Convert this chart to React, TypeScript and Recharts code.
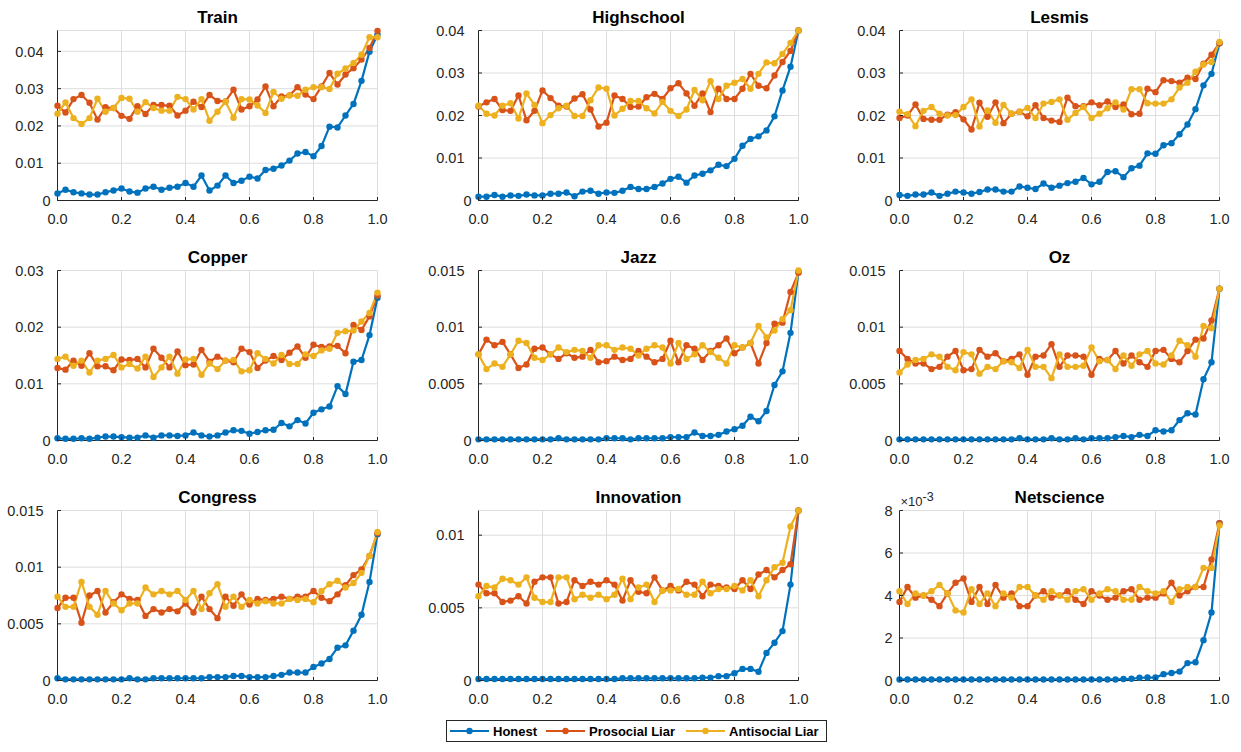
import React from 'react';
import { LineChart, Line, XAxis, YAxis, CartesianGrid } from 'recharts';

const FONT = '"Liberation Sans", Arial, Helvetica, sans-serif';
const INK = '#262626';
const GRID = '#dedede';
const TICK_FONT = 14.5;

const COLORS = {
  honest: '#0072BD',
  prosocial: '#D95319',
  antisocial: '#EDB120',
};

// liar fraction on the x axis (41 samples)
const xs = [
  0, 0.025, 0.05, 0.075, 0.1, 0.125, 0.15, 0.175, 0.2, 0.225, 0.25, 0.275, 0.3, 0.325,
  0.35, 0.375, 0.4, 0.425, 0.45, 0.475, 0.5, 0.525, 0.55, 0.575, 0.6, 0.625, 0.65, 0.675,
  0.7, 0.725, 0.75, 0.775, 0.8, 0.825, 0.85, 0.875, 0.9, 0.925, 0.95, 0.975, 1,
];
const xTicks = [0, 0.2, 0.4, 0.6, 0.8, 1];
const xTickLabels = ['0.0', '0.2', '0.4', '0.6', '0.8', '1.0'];

// Train
const trainHonest = [0.0019, 0.0029, 0.0022, 0.0019, 0.0016, 0.0016, 0.0022, 0.0027, 0.0032, 0.0024, 0.0021, 0.0032, 0.0037, 0.0029, 0.0034, 0.0037, 0.0047, 0.0037, 0.0067, 0.0027, 0.0040, 0.0067, 0.0047, 0.0053, 0.0064, 0.0059, 0.0082, 0.0085, 0.0094, 0.0107, 0.0126, 0.0130, 0.0119, 0.0146, 0.0198, 0.0196, 0.0228, 0.0259, 0.0321, 0.0399, 0.0445];
const trainProsocial = [0.0254, 0.0236, 0.0272, 0.0283, 0.0262, 0.0217, 0.0250, 0.0248, 0.0227, 0.0219, 0.0253, 0.0232, 0.0256, 0.0256, 0.0254, 0.0228, 0.0241, 0.0265, 0.0251, 0.0283, 0.0267, 0.0266, 0.0297, 0.0244, 0.0253, 0.0271, 0.0306, 0.0253, 0.0279, 0.0282, 0.0304, 0.0284, 0.0272, 0.0306, 0.0342, 0.0311, 0.0338, 0.0355, 0.0378, 0.0409, 0.0455];
const trainAntisocial = [0.0233, 0.0263, 0.0221, 0.0205, 0.0221, 0.0273, 0.0238, 0.0248, 0.0275, 0.0273, 0.0238, 0.0264, 0.0248, 0.0241, 0.0241, 0.0278, 0.0272, 0.0244, 0.0272, 0.0214, 0.0238, 0.0265, 0.0222, 0.0272, 0.0271, 0.0255, 0.0235, 0.0291, 0.0273, 0.0282, 0.0281, 0.0297, 0.0304, 0.0304, 0.0299, 0.0340, 0.0354, 0.0369, 0.0391, 0.0438, 0.0438];

// Highschool
const highschoolHonest = [0.0009, 0.0009, 0.0013, 0.0009, 0.0012, 0.0011, 0.0014, 0.0012, 0.0012, 0.0016, 0.0016, 0.0019, 0.0010, 0.0021, 0.0023, 0.0016, 0.0019, 0.0018, 0.0023, 0.0032, 0.0027, 0.0027, 0.0032, 0.0040, 0.0051, 0.0056, 0.0042, 0.0059, 0.0063, 0.0071, 0.0084, 0.0081, 0.0098, 0.0129, 0.0145, 0.0151, 0.0165, 0.0198, 0.0259, 0.0315, 0.0400];
const highschoolProsocial = [0.0221, 0.0231, 0.0239, 0.0213, 0.0211, 0.0247, 0.0189, 0.0211, 0.0259, 0.0241, 0.0223, 0.0221, 0.0240, 0.0250, 0.0214, 0.0174, 0.0183, 0.0247, 0.0239, 0.0220, 0.0221, 0.0243, 0.0251, 0.0239, 0.0264, 0.0276, 0.0252, 0.0223, 0.0252, 0.0208, 0.0263, 0.0239, 0.0239, 0.0263, 0.0298, 0.0270, 0.0264, 0.0294, 0.0326, 0.0352, 0.0400];
const highschoolAntisocial = [0.0223, 0.0204, 0.0200, 0.0223, 0.0229, 0.0193, 0.0252, 0.0225, 0.0182, 0.0201, 0.0217, 0.0223, 0.0199, 0.0199, 0.0236, 0.0266, 0.0263, 0.0200, 0.0216, 0.0234, 0.0234, 0.0217, 0.0205, 0.0232, 0.0211, 0.0199, 0.0214, 0.0260, 0.0236, 0.0281, 0.0239, 0.0270, 0.0277, 0.0286, 0.0263, 0.0298, 0.0325, 0.0323, 0.0345, 0.0371, 0.0400];

// Lesmis
const lesmisHonest = [0.0013, 0.0011, 0.0014, 0.0014, 0.0019, 0.0011, 0.0016, 0.0021, 0.0019, 0.0016, 0.0020, 0.0026, 0.0026, 0.0021, 0.0021, 0.0033, 0.0030, 0.0027, 0.0040, 0.0030, 0.0035, 0.0041, 0.0044, 0.0053, 0.0038, 0.0044, 0.0067, 0.0069, 0.0055, 0.0076, 0.0082, 0.0111, 0.0110, 0.0130, 0.0135, 0.0156, 0.0179, 0.0215, 0.0271, 0.0298, 0.0370];
const lesmisProsocial = [0.0194, 0.0200, 0.0226, 0.0192, 0.0190, 0.0190, 0.0202, 0.0208, 0.0191, 0.0167, 0.0230, 0.0197, 0.0231, 0.0182, 0.0204, 0.0209, 0.0198, 0.0224, 0.0194, 0.0188, 0.0185, 0.0242, 0.0222, 0.0222, 0.0231, 0.0224, 0.0233, 0.0220, 0.0226, 0.0203, 0.0204, 0.0263, 0.0255, 0.0283, 0.0281, 0.0277, 0.0289, 0.0286, 0.0322, 0.0343, 0.0370];
const lesmisAntisocial = [0.0209, 0.0203, 0.0175, 0.0211, 0.0220, 0.0204, 0.0200, 0.0201, 0.0220, 0.0238, 0.0174, 0.0212, 0.0183, 0.0225, 0.0204, 0.0209, 0.0218, 0.0194, 0.0228, 0.0232, 0.0238, 0.0190, 0.0206, 0.0220, 0.0194, 0.0204, 0.0217, 0.0231, 0.0214, 0.0262, 0.0262, 0.0229, 0.0228, 0.0228, 0.0238, 0.0266, 0.0277, 0.0303, 0.0320, 0.0326, 0.0373];

// Copper
const copperHonest = [0.0004, 0.0003, 0.0003, 0.0004, 0.0003, 0.0005, 0.0007, 0.0007, 0.0006, 0.0005, 0.0005, 0.0009, 0.0005, 0.0009, 0.0009, 0.0008, 0.0009, 0.0014, 0.0009, 0.0007, 0.0009, 0.0014, 0.0018, 0.0017, 0.0012, 0.0015, 0.0018, 0.0019, 0.0031, 0.0025, 0.0036, 0.0030, 0.0049, 0.0055, 0.0060, 0.0096, 0.0082, 0.0139, 0.0142, 0.0186, 0.0252];
const copperProsocial = [0.0128, 0.0125, 0.0141, 0.0132, 0.0154, 0.0131, 0.0131, 0.0124, 0.0143, 0.0142, 0.0144, 0.0129, 0.0162, 0.0146, 0.0129, 0.0157, 0.0133, 0.0134, 0.0160, 0.0139, 0.0148, 0.0141, 0.0138, 0.0162, 0.0156, 0.0128, 0.0141, 0.0149, 0.0142, 0.0155, 0.0166, 0.0146, 0.0169, 0.0165, 0.0166, 0.0167, 0.0154, 0.0204, 0.0195, 0.0219, 0.0256];
const copperAntisocial = [0.0144, 0.0148, 0.0132, 0.0141, 0.0120, 0.0141, 0.0144, 0.0151, 0.0129, 0.0135, 0.0127, 0.0148, 0.0112, 0.0129, 0.0148, 0.0118, 0.0143, 0.0144, 0.0116, 0.0136, 0.0126, 0.0141, 0.0142, 0.0122, 0.0124, 0.0154, 0.0144, 0.0136, 0.0151, 0.0135, 0.0135, 0.0152, 0.0149, 0.0159, 0.0162, 0.0190, 0.0193, 0.0194, 0.0210, 0.0225, 0.0261];

// Jazz
const jazzHonest = [0.0001, 0.0001, 0.0001, 0.0001, 0.0001, 0.0001, 0.0001, 0.0001, 0.0001, 0.0001, 0.0002, 0.0001, 0.0001, 0.0001, 0.0001, 0.0001, 0.0002, 0.0002, 0.0002, 0.0001, 0.0002, 0.0002, 0.0002, 0.0002, 0.0003, 0.0003, 0.0003, 0.0007, 0.0004, 0.0004, 0.0005, 0.0008, 0.0010, 0.0013, 0.0021, 0.0017, 0.0026, 0.0049, 0.0061, 0.0095, 0.0149];
const jazzProsocial = [0.0076, 0.0089, 0.0084, 0.0087, 0.0076, 0.0064, 0.0067, 0.0081, 0.0082, 0.0076, 0.0072, 0.0077, 0.0073, 0.0074, 0.0080, 0.0069, 0.0070, 0.0074, 0.0071, 0.0072, 0.0079, 0.0074, 0.0069, 0.0072, 0.0088, 0.0069, 0.0084, 0.0081, 0.0071, 0.0079, 0.0084, 0.0090, 0.0077, 0.0082, 0.0086, 0.0068, 0.0086, 0.0103, 0.0104, 0.0131, 0.0148];
const jazzAntisocial = [0.0076, 0.0063, 0.0068, 0.0065, 0.0076, 0.0088, 0.0086, 0.0073, 0.0071, 0.0076, 0.0082, 0.0078, 0.0080, 0.0079, 0.0073, 0.0084, 0.0084, 0.0080, 0.0082, 0.0081, 0.0075, 0.0081, 0.0084, 0.0082, 0.0068, 0.0086, 0.0072, 0.0076, 0.0084, 0.0078, 0.0073, 0.0068, 0.0084, 0.0082, 0.0086, 0.0101, 0.0091, 0.0097, 0.0107, 0.0115, 0.0150];

// Oz
const ozHonest = [0.0001, 0.0001, 0.0001, 0.0001, 0.0001, 0.0001, 0.0001, 0.0001, 0.0001, 0.0001, 0.0001, 0.0001, 0.0001, 0.0001, 0.0001, 0.0002, 0.0001, 0.0001, 0.0001, 0.0002, 0.0001, 0.0001, 0.0002, 0.0001, 0.0002, 0.0002, 0.0002, 0.0003, 0.0004, 0.0003, 0.0005, 0.0004, 0.0009, 0.0008, 0.0009, 0.0018, 0.0024, 0.0023, 0.0054, 0.0069, 0.0134];
const ozProsocial = [0.0079, 0.0072, 0.0068, 0.0068, 0.0063, 0.0065, 0.0074, 0.0079, 0.0062, 0.0063, 0.0080, 0.0074, 0.0077, 0.0070, 0.0072, 0.0076, 0.0058, 0.0074, 0.0075, 0.0085, 0.0065, 0.0075, 0.0075, 0.0074, 0.0058, 0.0072, 0.0071, 0.0079, 0.0068, 0.0075, 0.0069, 0.0065, 0.0079, 0.0080, 0.0072, 0.0069, 0.0079, 0.0089, 0.0090, 0.0106, 0.0134];
const ozAntisocial = [0.0060, 0.0067, 0.0071, 0.0072, 0.0076, 0.0074, 0.0065, 0.0062, 0.0078, 0.0076, 0.0059, 0.0065, 0.0063, 0.0070, 0.0069, 0.0064, 0.0080, 0.0065, 0.0065, 0.0055, 0.0076, 0.0065, 0.0065, 0.0066, 0.0082, 0.0070, 0.0071, 0.0063, 0.0075, 0.0066, 0.0076, 0.0079, 0.0068, 0.0067, 0.0075, 0.0088, 0.0084, 0.0074, 0.0101, 0.0099, 0.0134];

// Congress
const congressHonest = [0.0002, 0.0001, 0.0001, 0.0001, 0.0001, 0.0001, 0.0001, 0.0001, 0.0001, 0.0002, 0.0001, 0.0001, 0.0002, 0.0002, 0.0002, 0.0002, 0.0002, 0.0002, 0.0002, 0.0003, 0.0003, 0.0003, 0.0004, 0.0004, 0.0003, 0.0003, 0.0003, 0.0004, 0.0005, 0.0007, 0.0007, 0.0007, 0.0012, 0.0015, 0.0019, 0.0029, 0.0031, 0.0044, 0.0058, 0.0087, 0.0129];
const congressProsocial = [0.0064, 0.0073, 0.0073, 0.0051, 0.0075, 0.0079, 0.0060, 0.0069, 0.0076, 0.0072, 0.0071, 0.0057, 0.0063, 0.0060, 0.0063, 0.0061, 0.0068, 0.0060, 0.0074, 0.0063, 0.0055, 0.0074, 0.0066, 0.0076, 0.0067, 0.0072, 0.0071, 0.0072, 0.0074, 0.0072, 0.0074, 0.0074, 0.0079, 0.0073, 0.0070, 0.0076, 0.0084, 0.0093, 0.0098, 0.0110, 0.0130];
const congressAntisocial = [0.0074, 0.0065, 0.0065, 0.0087, 0.0065, 0.0058, 0.0079, 0.0068, 0.0062, 0.0068, 0.0068, 0.0082, 0.0076, 0.0079, 0.0076, 0.0079, 0.0071, 0.0079, 0.0063, 0.0077, 0.0085, 0.0065, 0.0074, 0.0065, 0.0071, 0.0068, 0.0070, 0.0068, 0.0068, 0.0072, 0.0071, 0.0072, 0.0069, 0.0079, 0.0085, 0.0088, 0.0082, 0.0086, 0.0095, 0.0110, 0.0131];

// Innovation
const innovationHonest = [0.0001, 0.0001, 0.0001, 0.0001, 0.0001, 0.0001, 0.0001, 0.0001, 0.0001, 0.0001, 0.0001, 0.0001, 0.0001, 0.0001, 0.0001, 0.0001, 0.0001, 0.0001, 0.00015, 0.00015, 0.00015, 0.00015, 0.00015, 0.00015, 0.00015, 0.00015, 0.00015, 0.00015, 0.0002, 0.0002, 0.0003, 0.0003, 0.0005, 0.0008, 0.0008, 0.0006, 0.0019, 0.0026, 0.0034, 0.0066, 0.0117];
const innovationProsocial = [0.0066, 0.0060, 0.0060, 0.0054, 0.0055, 0.0058, 0.0053, 0.0068, 0.0071, 0.0071, 0.0053, 0.0054, 0.0069, 0.0065, 0.0068, 0.0066, 0.0069, 0.0066, 0.0055, 0.0069, 0.0061, 0.0060, 0.0071, 0.0062, 0.0065, 0.0062, 0.0068, 0.0066, 0.0058, 0.0066, 0.0065, 0.0064, 0.0063, 0.0069, 0.0063, 0.0073, 0.0076, 0.0071, 0.0076, 0.0080, 0.0117];
const innovationAntisocial = [0.0058, 0.0065, 0.0064, 0.0070, 0.0069, 0.0066, 0.0071, 0.0057, 0.0054, 0.0054, 0.0071, 0.0071, 0.0056, 0.0059, 0.0057, 0.0059, 0.0056, 0.0059, 0.0070, 0.0056, 0.0064, 0.0066, 0.0054, 0.0062, 0.0062, 0.0063, 0.0059, 0.0059, 0.0068, 0.0060, 0.0063, 0.0063, 0.0065, 0.0062, 0.0069, 0.0058, 0.0069, 0.0078, 0.0081, 0.0106, 0.0117];

// Netscience
const netscienceHonest = [0.00005, 0.00005, 0.00005, 0.00005, 0.00005, 0.00005, 0.00005, 0.00005, 0.00005, 0.00005, 0.00005, 0.00005, 0.00005, 0.00005, 0.00005, 0.00005, 0.00005, 0.00005, 0.00005, 0.00005, 0.00005, 0.00005, 0.00005, 0.00005, 0.00005, 0.00005, 0.00005, 0.00005, 0.00007, 0.00008, 0.00013, 0.00014, 0.00014, 0.0003, 0.00035, 0.00042, 0.00082, 0.00086, 0.0019, 0.0032, 0.0074];
const netscienceProsocial = [0.0037, 0.0044, 0.0039, 0.0040, 0.0038, 0.0035, 0.0041, 0.0046, 0.0048, 0.0037, 0.0044, 0.0036, 0.0045, 0.0039, 0.0041, 0.0035, 0.0035, 0.0040, 0.0042, 0.0039, 0.0040, 0.0042, 0.0038, 0.0036, 0.0042, 0.0040, 0.0038, 0.0039, 0.0042, 0.0043, 0.0038, 0.0039, 0.0039, 0.0041, 0.0046, 0.0040, 0.0042, 0.0044, 0.0044, 0.0057, 0.0074];
const netscienceAntisocial = [0.0042, 0.0036, 0.0041, 0.0040, 0.0042, 0.0045, 0.0041, 0.0033, 0.0032, 0.0043, 0.0036, 0.0041, 0.0035, 0.0041, 0.0039, 0.0044, 0.0044, 0.0040, 0.0038, 0.0042, 0.0040, 0.0038, 0.0042, 0.0043, 0.0038, 0.0041, 0.0043, 0.0042, 0.0038, 0.0038, 0.0044, 0.0042, 0.0041, 0.0042, 0.0037, 0.0043, 0.0044, 0.0044, 0.0053, 0.0053, 0.0073];

// y-axis ticks per panel
const ticks004 = [0, 0.01, 0.02, 0.03, 0.04];
const labels004 = ['0', '0.01', '0.02', '0.03', '0.04'];
const ticks003 = [0, 0.01, 0.02, 0.03];
const labels003 = ['0', '0.01', '0.02', '0.03'];
const ticks0015 = [0, 0.005, 0.01, 0.015];
const labels0015 = ['0', '0.005', '0.01', '0.015'];
const ticks001 = [0, 0.005, 0.01];
const labels001 = ['0', '0.005', '0.01'];
const ticksE3 = [0, 0.002, 0.004, 0.006, 0.008];
const labelsE3 = ['0', '2', '4', '6', '8'];

interface Panel {
  title: string;
  honest: number[];
  prosocial: number[];
  antisocial: number[];
  yMax: number;
  yTicks: number[];
  yLabels: string[];
  exponent?: string;
}

const panels: Panel[] = [
  { title: 'Train', honest: trainHonest, prosocial: trainProsocial, antisocial: trainAntisocial, yMax: 0.0456, yTicks: ticks004, yLabels: labels004 },
  { title: 'Highschool', honest: highschoolHonest, prosocial: highschoolProsocial, antisocial: highschoolAntisocial, yMax: 0.04, yTicks: ticks004, yLabels: labels004 },
  { title: 'Lesmis', honest: lesmisHonest, prosocial: lesmisProsocial, antisocial: lesmisAntisocial, yMax: 0.04, yTicks: ticks004, yLabels: labels004 },
  { title: 'Copper', honest: copperHonest, prosocial: copperProsocial, antisocial: copperAntisocial, yMax: 0.03, yTicks: ticks003, yLabels: labels003 },
  { title: 'Jazz', honest: jazzHonest, prosocial: jazzProsocial, antisocial: jazzAntisocial, yMax: 0.015, yTicks: ticks0015, yLabels: labels0015 },
  { title: 'Oz', honest: ozHonest, prosocial: ozProsocial, antisocial: ozAntisocial, yMax: 0.015, yTicks: ticks0015, yLabels: labels0015 },
  { title: 'Congress', honest: congressHonest, prosocial: congressProsocial, antisocial: congressAntisocial, yMax: 0.015, yTicks: ticks0015, yLabels: labels0015 },
  { title: 'Innovation', honest: innovationHonest, prosocial: innovationProsocial, antisocial: innovationAntisocial, yMax: 0.0117, yTicks: ticks001, yLabels: labels001 },
  { title: 'Netscience', honest: netscienceHonest, prosocial: netscienceProsocial, antisocial: netscienceAntisocial, yMax: 0.008, yTicks: ticksE3, yLabels: labelsE3, exponent: '-3' },
];

const seriesNames = ['Honest', 'Prosocial Liar', 'Antisocial Liar'];

// panel geometry (MATLAB subplot grid); half-pixel offsets keep the 1px frame crisp
const COL_STEP = 421;
const ROW_STEP = 240;
const PLOT_LEFT = 57.5;
const PLOT_TOP = 30.5;
const PLOT_W = 320;
const PLOT_H = 170;
const TICK_LEN = 3.5;

const BottomTick = (props: any) => {
  const { x, y, payload } = props;
  const label = xTickLabels[xTicks.indexOf(payload.value)];
  return (
    <g>
      <line x1={x} y1={y} x2={x} y2={y - TICK_LEN} stroke={INK} />
      <text x={x} y={y + 23} textAnchor="middle" fontSize={TICK_FONT} fontFamily={FONT} fill={INK}>
        {label}
      </text>
    </g>
  );
};

const TopTick = (props: any) => {
  const { x, y } = props;
  return <line x1={x} y1={y} x2={x} y2={y + TICK_LEN} stroke={INK} />;
};

const RightTick = (props: any) => {
  const { x, y } = props;
  return <line x1={x} y1={y} x2={x - TICK_LEN} y2={y} stroke={INK} />;
};

const makeLeftTick = (ticks: number[], labels: string[]) => (props: any) => {
  const { x, y, payload } = props;
  const label = labels[ticks.indexOf(payload.value)];
  const gap = label.length === 1 ? 7 : 14;
  return (
    <g>
      <line x1={x} y1={y} x2={x + TICK_LEN} y2={y} stroke={INK} />
      <text x={x - gap} y={y} dy="0.36em" textAnchor="end" fontSize={TICK_FONT} fontFamily={FONT} fill={INK}>
        {label}
      </text>
    </g>
  );
};

const PanelChart = ({ panel }: { panel: Panel }) => {
  const data = xs.map((x, i) => ({
    x,
    honest: panel.honest[i],
    prosocial: panel.prosocial[i],
    antisocial: panel.antisocial[i],
  }));
  const LeftTick = makeLeftTick(panel.yTicks, panel.yLabels);
  const dot = (c: string) => ({ r: 3.2, fill: c, stroke: c, strokeWidth: 0 });

  return (
    <LineChart
      width={PLOT_LEFT + PLOT_W + 10}
      height={PLOT_TOP + PLOT_H + 40}
      data={data}
      margin={{ top: PLOT_TOP, right: 10, bottom: 0, left: PLOT_LEFT - 50 }}
    >
      <CartesianGrid stroke={GRID} strokeWidth={1} />
      <XAxis
        dataKey="x"
        type="number"
        domain={[0, 1]}
        ticks={xTicks}
        interval={0}
        height={40}
        tickSize={0}
        tickMargin={0}
        tick={<BottomTick />}
        axisLine={{ stroke: INK, strokeWidth: 1 }}
      />
      <XAxis
        xAxisId="top"
        dataKey="x"
        orientation="top"
        type="number"
        domain={[0, 1]}
        ticks={xTicks}
        interval={0}
        height={0}
        tickSize={0}
        tickMargin={0}
        tick={<TopTick />}
        axisLine={{ stroke: INK, strokeWidth: 1 }}
      />
      <YAxis
        type="number"
        domain={[0, panel.yMax]}
        ticks={panel.yTicks}
        interval={0}
        width={50}
        tickSize={0}
        tickMargin={0}
        tick={<LeftTick />}
        axisLine={{ stroke: INK, strokeWidth: 1 }}
      />
      <YAxis
        yAxisId="right"
        orientation="right"
        type="number"
        domain={[0, panel.yMax]}
        ticks={panel.yTicks}
        interval={0}
        width={0}
        tickSize={0}
        tickMargin={0}
        tick={<RightTick />}
        axisLine={{ stroke: INK, strokeWidth: 1 }}
      />
      {/* invisible series so the top/right frame axes are laid out */}
      <Line xAxisId="top" yAxisId="right" dataKey="honest" stroke="none" dot={false} activeDot={false} legendType="none" isAnimationActive={false} />
      <Line dataKey="honest" name={seriesNames[0]} stroke={COLORS.honest} strokeWidth={2.2} dot={dot(COLORS.honest)} activeDot={false} isAnimationActive={false} />
      <Line dataKey="prosocial" name={seriesNames[1]} stroke={COLORS.prosocial} strokeWidth={2.2} dot={dot(COLORS.prosocial)} activeDot={false} isAnimationActive={false} />
      <Line dataKey="antisocial" name={seriesNames[2]} stroke={COLORS.antisocial} strokeWidth={2.2} dot={dot(COLORS.antisocial)} activeDot={false} isAnimationActive={false} />
    </LineChart>
  );
};

const legendColors = [COLORS.honest, COLORS.prosocial, COLORS.antisocial];
const legendLineX = [450, 546, 686];

const App = () => {
  return (
    <div style={{ position: 'absolute', left: 0, top: 0, width: 1241, height: 752, background: '#fff', fontFamily: FONT }}>
      {panels.map((p, i) => {
        const col = i % 3;
        const row = Math.floor(i / 3);
        return (
          <div key={p.title} style={{ position: 'absolute', left: col * COL_STEP, top: row * ROW_STEP }}>
            <PanelChart panel={p} />
          </div>
        );
      })}

      <svg width={1241} height={752} style={{ position: 'absolute', left: 0, top: 0, pointerEvents: 'none' }}>
        {panels.map((p, i) => {
          const col = i % 3;
          const row = Math.floor(i / 3);
          const cx = col * COL_STEP + PLOT_LEFT + PLOT_W / 2;
          return (
            <g key={p.title}>
              <text x={cx} y={row * ROW_STEP + 23} textAnchor="middle" fontSize={17} fontWeight="bold" fontFamily={FONT} fill="#000">
                {p.title}
              </text>
              {p.exponent && (
                <text x={col * COL_STEP + PLOT_LEFT + 1} y={row * ROW_STEP + 26} fontSize={13} fontFamily={FONT} fill={INK}>
                  ×10
                  <tspan dy={-5} fontSize={12.5}>{p.exponent}</tspan>
                </text>
              )}
            </g>
          );
        })}

        {/* legend */}
        <rect x={446.5} y={720.5} width={380} height={21} fill="#fff" stroke={INK} strokeWidth={1} />
        {seriesNames.map((name, i) => (
          <g key={name}>
            <line x1={legendLineX[i]} y1={731} x2={legendLineX[i] + 39} y2={731} stroke={legendColors[i]} strokeWidth={2.2} />
            <circle cx={legendLineX[i] + 19.5} cy={731} r={3.2} fill={legendColors[i]} />
            <text x={legendLineX[i] + 43} y={735.5} fontSize={13} fontWeight="bold" fontFamily={FONT} fill="#000">
              {name}
            </text>
          </g>
        ))}
      </svg>
    </div>
  );
};

export default App;
